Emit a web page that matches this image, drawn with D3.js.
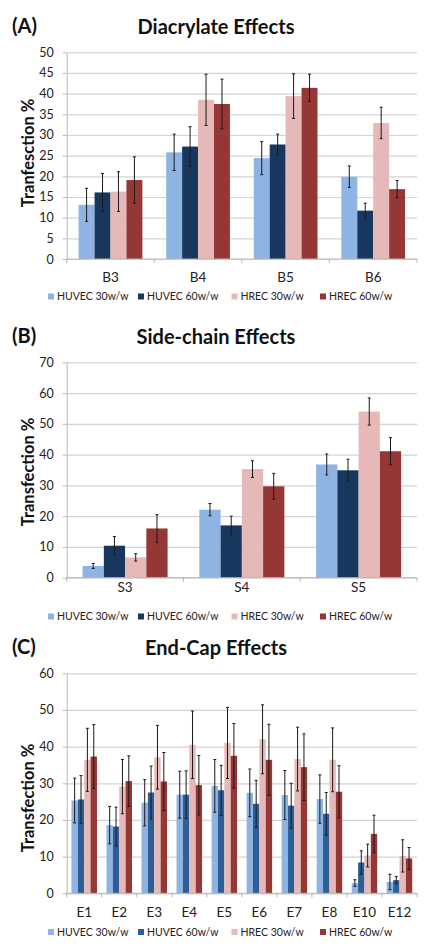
<!DOCTYPE html>
<html><head><meta charset="utf-8">
<script src="https://cdn.jsdelivr.net/npm/d3@7"></script>
<style>
html,body{margin:0;padding:0;background:#fff;}
svg{display:block;font-family:Lato,"Open Sans",sans-serif;}
</style></head>
<body><svg id="c" width="432" height="952"></svg>
<script>
// ---- data ----
const seriesNames = ["HUVEC 30w/w", "HUVEC 60w/w", "HREC 30w/w", "HREC 60w/w"];

const catA = ["B3", "B4", "B5", "B6"];
const huvec30A = [13.1, 25.8, 24.4, 19.9];
const huvec60A = [16.1, 27.2, 27.7, 11.7];
const hrec30A  = [16.3, 38.5, 39.4, 32.9];
const hrec60A  = [19.1, 37.5, 41.4, 16.9];
const errHuvec30A = [4.0, 4.4, 4.0, 2.6];
const errHuvec60A = [4.6, 4.8, 2.5, 1.8];
const errHrec30A  = [4.8, 6.2, 5.4, 3.8];
const errHrec60A  = [5.6, 6.0, 3.3, 2.1];
const ticksA = [0, 5, 10, 15, 20, 25, 30, 35, 40, 45, 50];

const catB = ["S3", "S4", "S5"];
const huvec30B = [3.8, 22.1, 36.8];
const huvec60B = [10.4, 17.0, 34.9];
const hrec30B  = [6.6, 35.3, 54.0];
const hrec60B  = [16.0, 29.7, 41.1];
const errHuvec30B = [0.8, 2.0, 3.4];
const errHuvec60B = [3.0, 3.0, 3.6];
const errHrec30B  = [1.2, 2.7, 4.4];
const errHrec60B  = [4.5, 4.2, 4.4];
const ticksB = [0, 10, 20, 30, 40, 50, 60, 70];

const catC = ["E1", "E2", "E3", "E4", "E5", "E6", "E7", "E8", "E10", "E12"];
const huvec30C = [25.3, 18.6, 24.7, 26.9, 29.3, 27.4, 26.8, 25.7, 2.8, 3.1];
const huvec60C = [25.6, 18.2, 27.5, 26.9, 28.1, 24.4, 23.9, 21.7, 8.4, 3.6];
const hrec30C  = [36.4, 29.1, 37.1, 40.5, 41.0, 42.0, 36.6, 36.4, 10.3, 10.2];
const hrec60C  = [37.3, 30.6, 30.5, 29.5, 37.5, 36.4, 34.4, 27.7, 16.2, 9.5];
const errHuvec30C = [6.1, 5.1, 6.3, 6.4, 7.2, 6.5, 6.7, 6.6, 0.9, 2.1];
const errHuvec60C = [6.5, 5.3, 7.2, 6.5, 6.8, 6.4, 6.1, 5.8, 3.2, 1.0];
const errHrec30C  = [8.6, 7.4, 8.7, 9.2, 9.7, 9.4, 8.7, 8.7, 3.1, 4.4];
const errHrec60C  = [8.7, 6.9, 7.9, 8.1, 8.8, 9.7, 9.1, 7.1, 5.1, 3.0];
const ticksC = [0, 10, 20, 30, 40, 50, 60];

// ---- drawing ----
const svg = d3.select("#c");
svg.append("rect").attr("width", 432).attr("height", 952).attr("fill", "#fff");

function drawPanel(p) {
  const g = svg.append("g");
  const left = 66.7, right = 417;
  const y = d3.scaleLinear().domain([0, p.ymax]).range([p.bottom, p.top]);
  const x0 = d3.scaleBand().domain(p.cats).range([left, right]).padding(0);
  const pad = 0.136 * x0.bandwidth();
  const x1 = d3.scaleBand().domain(d3.range(4)).range([pad, x0.bandwidth() - pad]).padding(0);

  // gridlines
  g.append("g").attr("transform", `translate(${left},0)`)
    .call(d3.axisLeft(y).tickValues(p.ticks).tickSize(-(right - left)).tickFormat(""))
    .call(s => s.select(".domain").remove())
    .call(s => s.selectAll("line").attr("stroke", "#d4d4d4").attr("stroke-width", 1.2));

  // y axis
  g.append("g").attr("transform", `translate(${left},0)`)
    .call(d3.axisLeft(y).tickValues(p.ticks).tickSize(4).tickSizeOuter(0).tickPadding(9))
    .call(s => s.select(".domain").attr("stroke", "#b8b8b8"))
    .call(s => s.selectAll("line").attr("stroke", "#b8b8b8"))
    .call(s => s.selectAll("text").attr("font-size", 12.5).attr("fill", "#222")
      .attr("font-family", "Lato, sans-serif"));

  // bars
  const series = p.values;
  p.cats.forEach((c, i) => {
    series.forEach((vals, j) => {
      g.append("rect")
        .attr("x", x0(c) + x1(j))
        .attr("width", x1.bandwidth())
        .attr("y", y(vals[i]))
        .attr("height", y(0) - y(vals[i]))
        .attr("fill", p.colors[j]);
    });
  });
  // error bars
  p.cats.forEach((c, i) => {
    series.forEach((vals, j) => {
      const cx = x0(c) + x1(j) + x1.bandwidth() / 2;
      const e = p.errs[j][i];
      const hi = y(vals[i] + e), lo = y(vals[i] - e);
      g.append("line").attr("x1", cx).attr("x2", cx).attr("y1", hi).attr("y2", lo)
        .attr("stroke", "#1a1a1a").attr("stroke-width", 1);
      [hi, lo].forEach(yy => g.append("line").attr("x1", cx - 1.5).attr("x2", cx + 1.5)
        .attr("y1", yy).attr("y2", yy).attr("stroke", "#1a1a1a").attr("stroke-width", 1));
    });
  });

  // x axis line + boundary ticks
  g.append("line").attr("x1", left).attr("x2", right).attr("y1", y(0)).attr("y2", y(0))
    .attr("stroke", "#b8b8b8").attr("stroke-width", 1);
  const edges = p.cats.map(c => x0(c)).concat([right]);
  edges.forEach(ex => g.append("line").attr("x1", ex).attr("x2", ex)
    .attr("y1", y(0)).attr("y2", y(0) + 4).attr("stroke", "#b8b8b8"));
  // category labels
  p.cats.forEach(c => g.append("text").attr("x", x0(c) + x0.bandwidth() / 2)
    .attr("y", p.catY).attr("text-anchor", "middle").attr("font-size", 13.5)
    .attr("fill", "#222").text(c));

  // titles
  g.append("text").attr("x", 216).attr("y", p.titleY).attr("text-anchor", "middle")
    .attr("font-size", 20).attr("font-weight", "bold").attr("fill", "#111").text(p.title);
  g.append("text").attr("x", 12).attr("y", p.titleY - 1).attr("font-size", 20)
    .attr("font-weight", "bold").attr("fill", "#111").text(p.label);
  g.append("text").attr("transform", `translate(34,${p.ytitleY}) rotate(-90)`)
    .attr("text-anchor", "middle").attr("font-size", 16.5).attr("font-weight", "bold")
    .attr("fill", "#111").text(p.ytitle);

  // legend
  const lx = [48, 138, 231.5, 320];
  seriesNames.forEach((n, j) => {
    g.append("rect").attr("x", lx[j]).attr("y", p.legY - 6.5).attr("width", 6).attr("height", 6)
      .attr("fill", p.colors[j]);
    g.append("text").attr("x", lx[j] + 9).attr("y", p.legY).attr("font-size", 10.5)
      .attr("fill", "#222").text(n);
  });
}

const colsDark = ["#8db4e2", "#17375e", "#e6b9b8", "#953735"];
const colsC = ["#8db4e2", "#2e5e95", "#e6b9b8", "#953735"];

drawPanel({cats: catA, values: [huvec30A, huvec60A, hrec30A, hrec60A],
  errs: [errHuvec30A, errHuvec60A, errHrec30A, errHrec60A], ticks: ticksA, ymax: 50,
  top: 52.3, bottom: 259, catY: 282, legY: 300, titleY: 34, ytitleY: 153,
  title: "Diacrylate Effects", label: "(A)", ytitle: "Tranfesction %", colors: colsDark});

drawPanel({cats: catB, values: [huvec30B, huvec60B, hrec30B, hrec60B],
  errs: [errHuvec30B, errHuvec60B, errHrec30B, errHrec60B], ticks: ticksB, ymax: 70,
  top: 362.3, bottom: 577.7, catY: 591.5, legY: 620, titleY: 344, ytitleY: 472,
  title: "Side-chain Effects", label: "(B)", ytitle: "Transfection %", colors: colsDark});

drawPanel({cats: catC, values: [huvec30C, huvec60C, hrec30C, hrec60C],
  errs: [errHuvec30C, errHuvec60C, errHrec30C, errHrec60C], ticks: ticksC, ymax: 60,
  top: 673.3, bottom: 893.3, catY: 916.5, legY: 935.5, titleY: 655, ytitleY: 798,
  title: "End-Cap Effects", label: "(C)", ytitle: "Transfection %", colors: colsC});
</script></body></html>
